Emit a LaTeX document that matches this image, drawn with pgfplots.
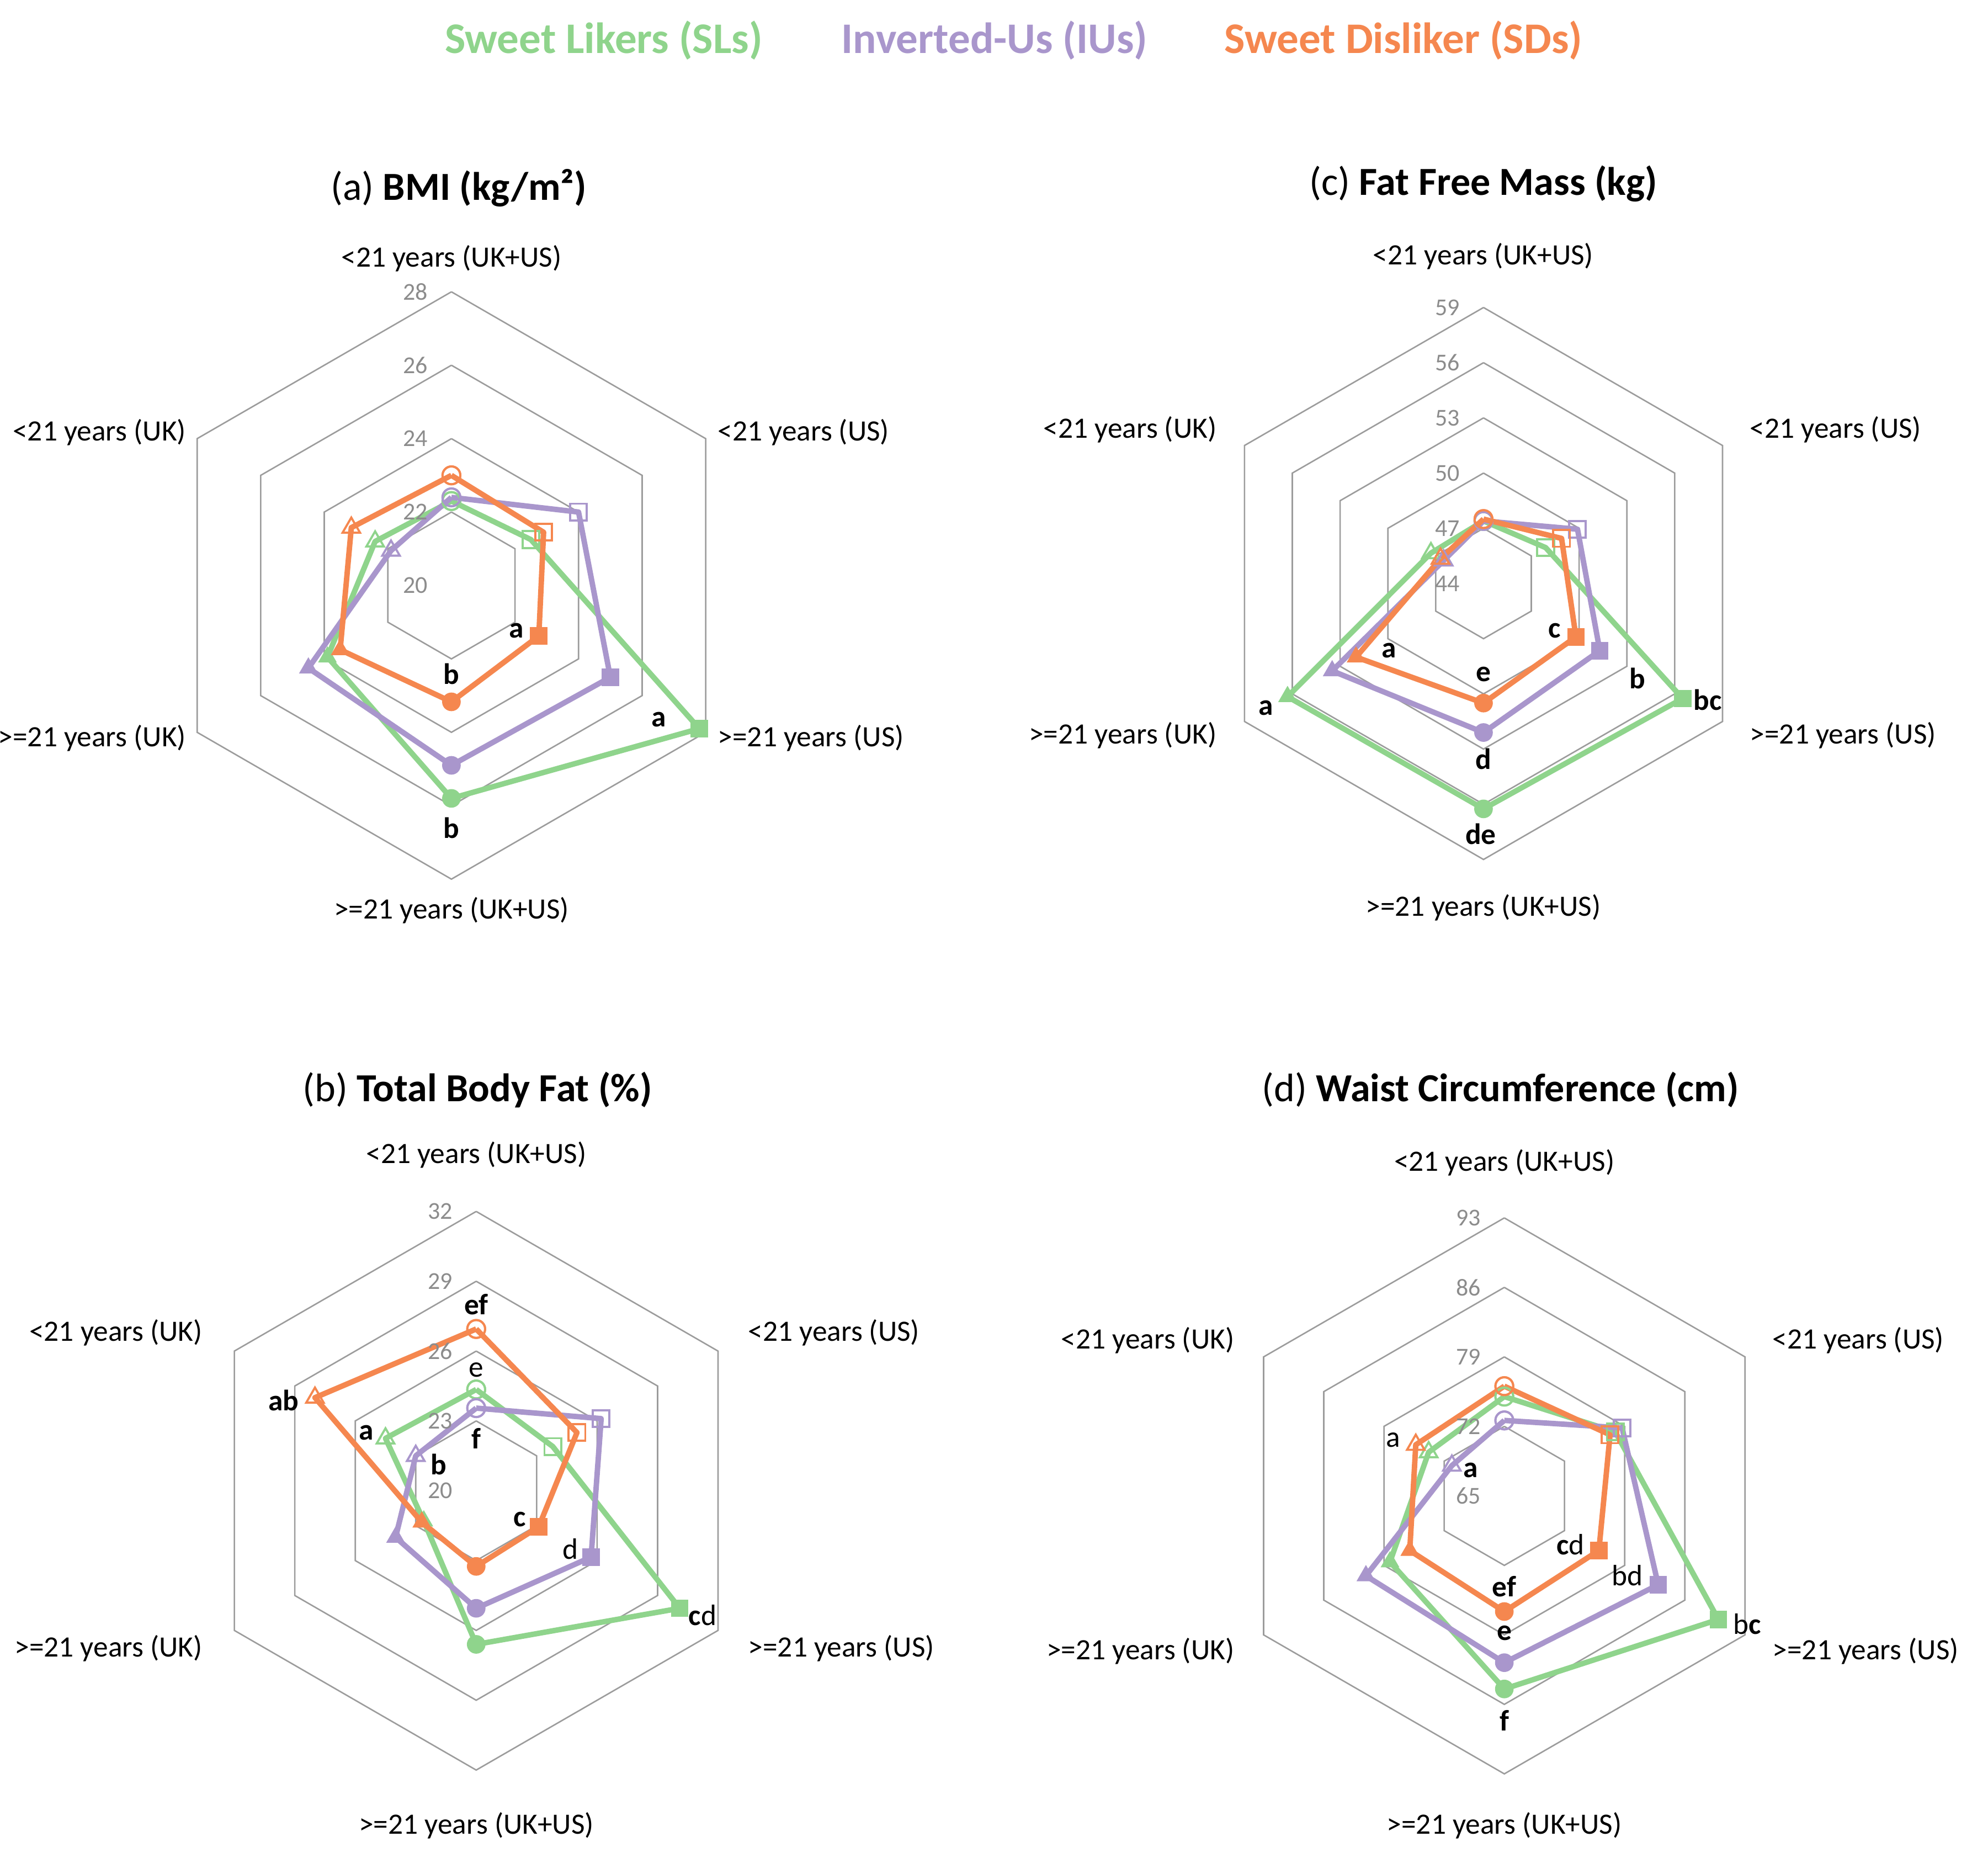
\documentclass[border=0pt]{standalone}
\usepackage{pgfplots}
\pgfplotsset{compat=1.18}
\usepackage{pgfplotstable}
\usepackage{fontspec}
\setmainfont{Carlito}
\definecolor{SLc}{HTML}{8FD48C}
\definecolor{IUc}{HTML}{A996CC}
\definecolor{SDc}{HTML}{F5874F}
\definecolor{gridc}{HTML}{9C9C9C}
\definecolor{tickc}{HTML}{8C8C8C}

\pgfplotstableread{
a d
90 1
30 1
-30 1
-90 1
-150 1
150 1
90 1
}\angles

% BMI (min 20)
\pgfplotstableread{
a SL IU SD m
90 22.3 22.4 23.0 oc
30 22.5 24.0 22.9 os
-30 27.8 25.0 22.75 fs
-90 25.8 24.9 23.17 fc
-150 23.9 24.5 23.5 ft
150 22.4 21.9 23.15 ot
90 22.3 22.4 23.0 oc
}\tabA
% Fat free mass (min 44)
\pgfplotstableread{
a SL IU SD m
90 47.4 47.4 47.5 oc
30 47.9 49.9 48.9 os
-30 56.5 51.3 49.8 fs
-90 56.25 52.1 50.5 fc
-150 56.3 53.5 52.0 ft
150 47.3 46.5 46.7 ot
90 47.4 47.4 47.5 oc
}\tabC
% Total body fat (min 20)
\pgfplotstableread{
a SL IU SD m
90 24.35 23.55 26.95 oc
30 23.8 26.2 25.0 os
-30 30.1 25.7 23.1 fs
-90 26.6 25.05 23.25 fc
-150 22.6 24.0 22.7 ft
150 24.5 23.0 28.0 ot
90 24.35 23.55 26.95 oc
}\tabB
% Waist circumference (min 65)
\pgfplotstableread{
a SL IU SD m
90 75.0 72.6 76.05 oc
30 77.9 78.7 77.3 os
-30 89.9 82.9 76.0 fs
-90 84.45 81.8 76.65 fc
-150 78.3 81.1 76.0 ft
150 73.8 71.1 75.3 ot
90 75.0 72.6 76.05 oc
}\tabD

\pgfplotsset{
  panel/.style={hide axis, clip=false, anchor=center},
  mk/.style={only marks, scatter, point meta=explicit symbolic, mark size=4.6pt,
    scatter/classes={
      oc={mark=o, draw=#1, line width=1.1pt},
      os={mark=square, draw=#1, line width=1.1pt, mark size=4.3pt},
      ot={mark=triangle, draw=#1, line width=1.1pt, mark size=5.2pt},
      fc={mark=*, draw=#1, fill=#1},
      fs={mark=square*, draw=#1, fill=#1, mark size=4.3pt},
      ft={mark=triangle*, draw=#1, fill=#1, mark size=5.2pt}}},
}
\newcommand{\ring}[1]{\addplot[gridc, line width=0.75pt, mark=none, line join=miter] table[x expr={#1*cos(\thisrow{a})}, y expr={#1*sin(\thisrow{a})}] {\angles};}
\newcommand{\series}[4]{%
  \addplot[line width=2.8pt, color=#4, mark=none, line join=round] table[x expr={(\thisrow{#2}-#3)*cos(\thisrow{a})}, y expr={(\thisrow{#2}-#3)*sin(\thisrow{a})}] {#1};
  \addplot[mk=#4] table[meta=m, x expr={(\thisrow{#2}-#3)*cos(\thisrow{a})}, y expr={(\thisrow{#2}-#3)*sin(\thisrow{a})}] {#1};}
\newcommand{\tk}[2]{\node[anchor=east, inner sep=0pt, xshift=-0.42cm, text=tickc, font=\fontsize{12.5}{14}\selectfont] at (axis cs:0,#1) {#2};}

\newcommand{\lab}{\fontsize{15.2}{18}\selectfont}
\newcommand{\ttl}{\fontsize{20.5}{24}\selectfont}
\newcommand{\lgd}{\fontsize{22.5}{26}\selectfont\bfseries}

\begin{document}
\begin{tikzpicture}
\useasboundingbox (0,0) rectangle (36.02,33.66);

% ---------- (a) BMI ----------
\begin{axis}[panel, x=0.665cm, y=0.665cm, xmin=-8.5, xmax=8.5, ymin=-8.5, ymax=8.5, at={(8.179cm,23.053cm)}]
\ring{2}\ring{4}\ring{6}\ring{8}
\series{\tabA}{SL}{20}{SLc}
\series{\tabA}{IU}{20}{IUc}
\series{\tabA}{SD}{20}{SDc}
\tk{0}{20}\tk{2}{22}\tk{4}{24}\tk{6}{26}\tk{8}{28}
\end{axis}

% ---------- (c) Fat free mass ----------
\begin{axis}[panel, x=0.33333cm, y=0.33333cm, xmin=-16, xmax=16, ymin=-16, ymax=16, at={(26.879cm,23.089cm)}]
\ring{3}\ring{6}\ring{9}\ring{12}\ring{15}
\series{\tabC}{SL}{44}{SLc}
\series{\tabC}{IU}{44}{IUc}
\series{\tabC}{SD}{44}{SDc}
\tk{0}{44}\tk{3}{47}\tk{6}{50}\tk{9}{53}\tk{12}{56}\tk{15}{59}
\end{axis}

% ---------- (b) Total body fat ----------
\begin{axis}[panel, x=0.42167cm, y=0.42167cm, xmin=-13, xmax=13, ymin=-13, ymax=13, at={(8.628cm,6.653cm)}]
\ring{3}\ring{6}\ring{9}\ring{12}
\series{\tabB}{SL}{20}{SLc}
\series{\tabB}{IU}{20}{IUc}
\series{\tabB}{SD}{20}{SDc}
\tk{0}{20}\tk{3}{23}\tk{6}{26}\tk{9}{29}\tk{12}{32}
\end{axis}

% ---------- (d) Waist circumference ----------
\begin{axis}[panel, x=0.17986cm, y=0.17986cm, xmin=-30, xmax=30, ymin=-30, ymax=30, at={(27.256cm,6.56cm)}]
\ring{7}\ring{14}\ring{21}\ring{28}
\series{\tabD}{SL}{65}{SLc}
\series{\tabD}{IU}{65}{IUc}
\series{\tabD}{SD}{65}{SDc}
\tk{0}{65}\tk{7}{72}\tk{14}{79}\tk{21}{86}\tk{28}{93}
\end{axis}

% ---------- legend ----------
\node[anchor=base, text=SLc, font=\lgd] at (10.94,32.695) {Sweet Likers (SLs)};
\node[anchor=base, text=IUc, font=\lgd] at (18.02,32.695) {Inverted-Us (IUs)};
\node[anchor=base, text=SDc, font=\lgd] at (25.43,32.695) {Sweet Disliker (SDs)};

% ---------- titles ----------
\node[anchor=base, font=\ttl] at (8.31,30.03) {(a) \textbf{BMI (kg/m²)}};
\node[anchor=base, font=\ttl] at (26.875,30.12) {(c) \textbf{Fat Free Mass (kg)}};
\node[anchor=base, font=\ttl] at (8.65,13.70) {(b) \textbf{Total Body Fat (\%)}};
\node[anchor=base, font=\ttl] at (27.19,13.70) {(d) \textbf{Waist Circumference (cm)}};

% ---------- category labels ----------
\begin{scope}[every node/.style={font=\lab, inner sep=0pt}]
% (a)
\node at (8.18,28.974) {<21 years (UK+US)};
\node[anchor=west] at (13.00,25.83) {<21 years (US)};
\node[anchor=east] at (3.377,25.83) {<21 years (UK)};
\node[anchor=west] at (13.00,20.29) {>=21 years (US)};
\node[anchor=east] at (3.377,20.29) {>=21 years (UK)};
\node at (8.18,17.17) {>=21 years (UK+US)};
% (c)
\node at (26.875,29.02) {<21 years (UK+US)};
\node[anchor=west] at (31.70,25.873) {<21 years (US)};
\node[anchor=east] at (22.05,25.873) {<21 years (UK)};
\node[anchor=west] at (31.70,20.34) {>=21 years (US)};
\node[anchor=east] at (22.05,20.34) {>=21 years (UK)};
\node at (26.875,17.213) {>=21 years (UK+US)};
% (b)
\node at (8.63,12.734) {<21 years (UK+US)};
\node[anchor=west] at (13.55,9.52) {<21 years (US)};
\node[anchor=east] at (3.675,9.52) {<21 years (UK)};
\node[anchor=west] at (13.55,3.80) {>=21 years (US)};
\node[anchor=east] at (3.675,3.80) {>=21 years (UK)};
\node at (8.63,0.583) {>=21 years (UK+US)};
% (d)
\node at (27.256,12.60) {<21 years (UK+US)};
\node[anchor=west] at (32.11,9.38) {<21 years (US)};
\node[anchor=east] at (22.37,9.38) {<21 years (UK)};
\node[anchor=west] at (32.11,3.75) {>=21 years (US)};
\node[anchor=east] at (22.37,3.75) {>=21 years (UK)};
\node at (27.256,0.583) {>=21 years (UK+US)};
\end{scope}

% ---------- significance letters ----------
\begin{scope}[every node/.style={font=\lab\bfseries, inner sep=0pt}]
% (a)
\node at (9.36,22.231) {a};
\node at (8.18,21.446) {b};
\node at (11.94,20.624) {a};
\node at (8.18,18.66) {b};
% (c)
\node at (28.167,22.231) {c};
\node at (25.17,21.874) {a};
\node at (26.879,21.446) {e};
\node at (29.666,21.374) {b};
\node at (30.942,20.981) {bc};
\node at (22.938,20.839) {a};
\node at (26.879,19.91) {d};
\node at (26.828,18.553) {de};
% (b)
\node at (8.628,10.024) {ef};
\node at (8.628,8.846) {\mdseries e};
\node at (8.628,7.596) {f};
\node at (5.139,8.289) {ab};
\node at (6.638,7.703) {a};
\node at (7.945,7.131) {b};
\node at (9.412,6.131) {c};
\node at (10.337,5.596) {\mdseries d};
\node at (12.729,4.403) {c\mdseries d};
% (d)
\node at (25.247,7.574) {\mdseries a};
\node at (26.65,7.024) {a};
\node at (28.455,5.681) {c\mdseries d};
\node at (29.488,5.117) {\mdseries bd};
\node at (27.256,4.917) {ef};
\node at (31.656,4.239) {\mdseries b\bfseries c};
\node at (27.256,4.074) {e};
\node at (27.256,2.489) {f};
\end{scope}
\end{tikzpicture}
\end{document}
